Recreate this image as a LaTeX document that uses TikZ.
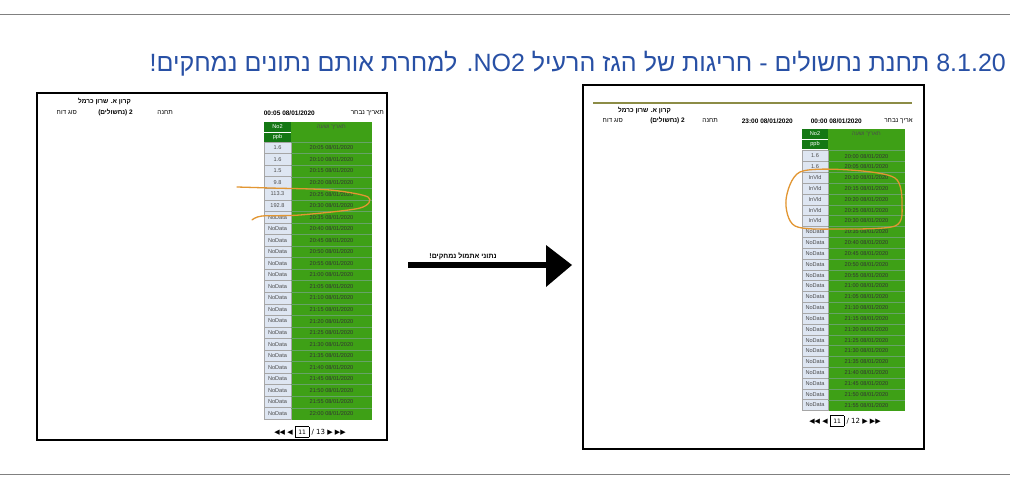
\documentclass[tikz,border=0pt]{standalone}
\usepackage{fontspec}
\setmainfont{Liberation Sans}
\newfontfamily\heb[Script=Hebrew]{Liberation Sans}
\TeXXeTstate=1
\definecolor{titleblue}{RGB}{40,80,165}
\definecolor{tgreen}{RGB}{62,160,22}
\definecolor{tdark}{RGB}{20,120,20}
\definecolor{cellblue}{RGB}{222,230,242}
\definecolor{orng}{RGB}{226,150,50}
\definecolor{olive}{RGB}{140,140,70}
\tikzset{
  tiny/.style={font=\fontsize{5.6}{6}\selectfont,inner sep=0pt},
  hdr/.style={font=\fontsize{6.5}{7}\selectfont,inner sep=0pt},
  hdrb/.style={font=\fontsize{6.5}{7}\selectfont\bfseries,inner sep=0pt},
  valcell/.style={draw=gray!70,fill=cellblue,line width=0.4pt},
  frame/.style={draw=black,line width=2pt},
  mark line/.style={draw=orng,line width=1.3pt,line cap=round},
}
\begin{document}
\begin{tikzpicture}[x=1pt,y=-1pt]
\useasboundingbox (0,0) rectangle (1024,484);
\fill[white] (0,0) rectangle (1024,484);
\draw[gray,line width=0.6pt] (0,14) -- (1010,14);
\draw[gray,line width=0.6pt] (0,474) -- (1010,474);
\node[anchor=east,text=titleblue,font=\fontsize{25}{28}\selectfont\heb,inner sep=0pt] (title) at (1006,64)
  {\beginR\beginL 8.1.20\endL{} תחנת נחשולים - חריגות של הגז הרעיל \beginL NO2\endL. למחרת אותם נתונים נמחקים!\endR};

% ---------- left screenshot ----------
\draw[frame] (37,93) rectangle (387,440);
\node[hdrb,anchor=east] (lh1) at (131,101) {\heb\beginR קרון א. שרון כרמל\endR};
\node[hdr,anchor=east] (lh2) at (77,113) {\heb\beginR סוג דוח\endR};
\node[hdrb,anchor=east] (lh3) at (133,113) {\heb\beginR 2 (נחשולים)\endR};
\node[hdr,anchor=east] (lh4) at (173,113) {\heb\beginR תחנה\endR};
\node[hdrb,anchor=east] (lh5) at (315,113) {00:05 08/01/2020};
\node[hdr,anchor=east] (lh6) at (384,113) {\heb\beginR תאריך נבחר\endR};
\fill[tgreen] (291,122) rectangle (372,420);
\fill[tdark] (264,122) rectangle (291,142);
\draw[white,line width=0.4pt] (264,132) -- (291,132);
\node[tiny,text=white] (lno) at (277.5,127) {No2};
\node[tiny,text=white] (lppb) at (277.5,137) {ppb};
\node[tiny,text=black!70] (ldh) at (331.5,127) {\heb\beginR תאריך ושעה\endR};
\foreach \v [count=\i] in {1.6,1.6,1.5,9.8,113.3,192.8,NoData,NoData,NoData,NoData,NoData,NoData,NoData,NoData,NoData,NoData,NoData,NoData,NoData,NoData,NoData,NoData,NoData,NoData}{
  \pgfmathsetmacro{\yt}{142+(\i-1)*11.55}
  \pgfmathtruncatemacro{\mins}{1205+5*(\i-1)}
  \pgfmathtruncatemacro{\hh}{\mins/60}
  \pgfmathtruncatemacro{\mm}{mod(\mins,60)}
  \draw[valcell] (264,\yt) rectangle (291,\yt+11.55);
  \draw[green!40!black!60,line width=0.3pt] (291,\yt) -- (372,\yt);
  \node[tiny,text=black!70] (lv\i) at (277.5,\yt+5.8) {\v};
  \node[tiny,text=black!80] (lt\i) at (331.5,\yt+5.8) {\hh:\ifnum\mm<10 0\fi\mm\ 08/01/2020};
}
\node[font=\fontsize{7}{8}\selectfont,inner sep=0pt] (lpg) at (310,432) {\fontspec{DejaVu Sans}◀◀ ◀ \fbox{\fontsize{6}{7}\selectfont 11} / 13 ▶ ▶▶};
\draw[mark line] plot[smooth] coordinates {(237,187) (270,188) (330,190) (368,197) (360,208) (300,215) (262,216) (252,220)};

% ---------- arrow ----------
\coordinate (as) at (408,265);
\coordinate (ae) at (572,265);
\draw[line width=6pt] (as) -- (546,265);
\fill (546,245) -- (ae) -- (546,287) -- cycle;
\node[font=\fontsize{7}{8}\selectfont\bfseries\heb,inner sep=0pt] (alab) at (463,256) {\beginR נתוני אתמול נמחקים!\endR};

% ---------- right screenshot ----------
\draw[frame,line width=2.5pt] (583,85) rectangle (924,449);
\draw[olive,line width=1.2pt] (593,103) -- (912,103);
\node[hdrb,anchor=east] (rh1) at (671,110) {\heb\beginR קרון א. שרון כרמל\endR};
\node[hdr,anchor=east] (rh2) at (623,121) {\heb\beginR סוג דוח\endR};
\node[hdrb,anchor=east] (rh3) at (685,121) {\heb\beginR 2 (נחשולים)\endR};
\node[hdr,anchor=east] (rh4) at (718,121) {\heb\beginR תחנה\endR};
\node[hdrb,anchor=east] (rh5) at (793,121) {23:00 08/01/2020};
\node[hdrb,anchor=east] (rh6) at (862,121) {00:00 08/01/2020};
\node[hdr,anchor=east] (rh7) at (913,121) {\heb\beginR אריך נבחר\endR};
\fill[tgreen] (828,129) rectangle (905,411);
\fill[tdark] (802,129) rectangle (828,149);
\draw[white,line width=0.4pt] (802,139) -- (828,139);
\node[tiny,text=white] (rno) at (815,134) {No2};
\node[tiny,text=white] (rppb) at (815,144) {ppb};
\node[tiny,text=black!70] (rdh) at (866.5,134) {\heb\beginR תאריך ושעה\endR};
\foreach \v [count=\i] in {1.6,1.6,InVld,InVld,InVld,InVld,InVld,NoData,NoData,NoData,NoData,NoData,NoData,NoData,NoData,NoData,NoData,NoData,NoData,NoData,NoData,NoData,NoData,NoData}{
  \pgfmathsetmacro{\yt}{150.6+(\i-1)*10.83}
  \pgfmathtruncatemacro{\mins}{1200+5*(\i-1)}
  \pgfmathtruncatemacro{\hh}{\mins/60}
  \pgfmathtruncatemacro{\mm}{mod(\mins,60)}
  \draw[valcell] (802,\yt) rectangle (828,\yt+10.83);
  \draw[green!40!black!60,line width=0.3pt] (828,\yt) -- (905,\yt);
  \node[tiny,text=black!70] (rv\i) at (815,\yt+5.4) {\v};
  \node[tiny,text=black!80] (rt\i) at (866.5,\yt+5.4) {\hh:\ifnum\mm<10 0\fi\mm\ 08/01/2020};
}
\node[font=\fontsize{7}{8}\selectfont,inner sep=0pt] (rpg) at (845,421) {\fontspec{DejaVu Sans}◀◀ ◀ \fbox{\fontsize{6}{7}\selectfont 11} / 12 ▶ ▶▶};
\draw[mark line] plot[smooth cycle] coordinates {(800,172) (850,170) (895,178) (902,205) (895,226) (840,229) (795,226) (786,200)};
\end{tikzpicture}
\end{document}
